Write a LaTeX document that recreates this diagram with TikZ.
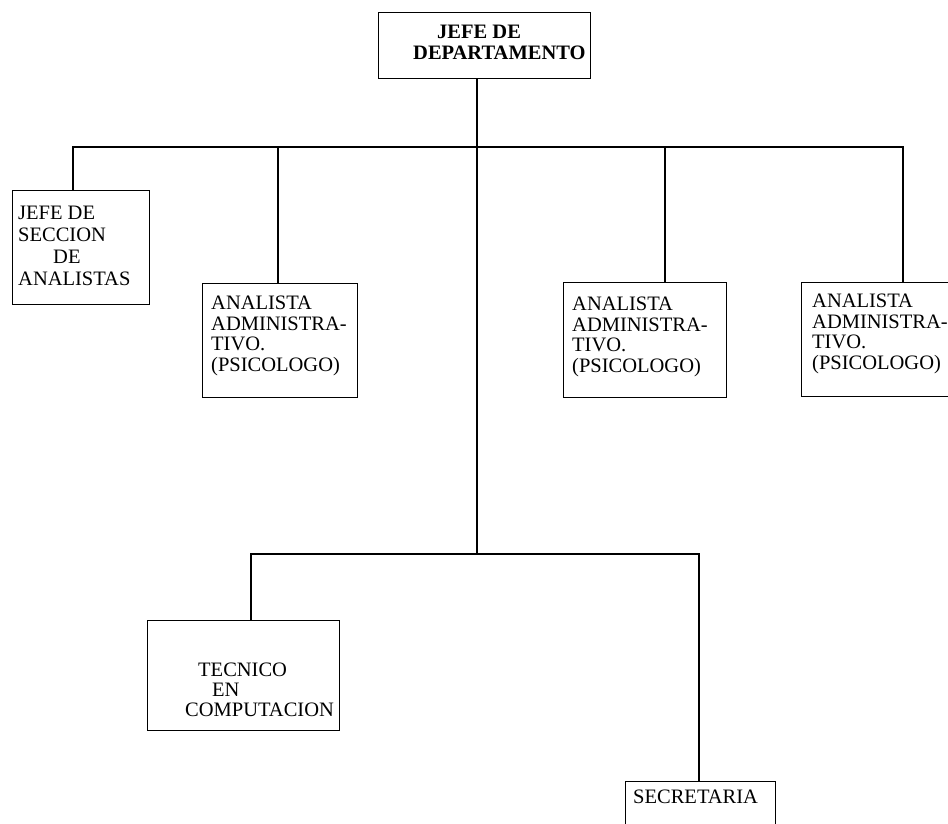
\documentclass[tikz,border=0pt]{standalone}
\usepackage{fontspec}
\setmainfont{Liberation Serif}
\begin{document}
\begin{tikzpicture}[x=1pt,y=-1pt,
  box/.style={draw=black, line width=1.2pt, inner sep=0pt, anchor=north west},
  txt/.style={inner sep=0pt, anchor=north west, align=left,
    font=\fontsize{20.5}{20.5}\selectfont},
  link/.style={draw=black, line width=1.3pt}]
\useasboundingbox (0,0) rectangle (948,823);
\fill[white] (0,0) rectangle (948,823);
\clip (0,0) rectangle (948,823);

% boxes
\node[box, minimum width=212pt, minimum height=66pt] (t) at (378,12) {};
\node[box, minimum width=137pt, minimum height=114pt] (js) at (12,190) {};
\node[box, minimum width=155pt, minimum height=114pt] (a1) at (202,283) {};
\node[box, minimum width=163pt, minimum height=115pt] (a2) at (563,282) {};
\node[box, minimum width=170pt, minimum height=114pt] (a3) at (801,282) {};
\node[box, minimum width=192pt, minimum height=110pt] (tc) at (147,620) {};
\node[box, minimum width=150pt, minimum height=70pt] (sc) at (625,781) {};

% texts
\node[txt, font=\fontsize{20.5}{21}\selectfont\bfseries] (tt) at (413,25) {\hspace*{24pt}JEFE DE\\DEPARTAMENTO};
\node[txt, font=\fontsize{20.5}{22}\selectfont] (jst) at (18,206) {JEFE DE\\SECCION\\\hspace*{35pt}DE\\ANALISTAS};
\node[txt] (a1t) at (211,296) {ANALISTA\\ADMINISTRA-\\TIVO.\\(PSICOLOGO)};
\node[txt] (a2t) at (572,297) {ANALISTA\\ADMINISTRA-\\TIVO.\\(PSICOLOGO)};
\node[txt] (a3t) at (812,294) {ANALISTA\\ADMINISTRA-\\TIVO.\\(PSICOLOGO)};
\node[txt, font=\fontsize{20.5}{20}\selectfont] (tct) at (185,663) {\hspace*{13pt}TECNICO\\\hspace*{27pt}EN\\COMPUTACION};
\node[txt] (sct) at (633,790) {SECRETARIA};

% bus coordinates
\coordinate (top) at (477,147);
\coordinate (hl) at (73,147);
\coordinate (hr) at (903,147);
\coordinate (d1) at (278,147);
\coordinate (d2) at (665,147);
\coordinate (bot) at (477,554);
\coordinate (bl) at (251,554);
\coordinate (br) at (699,554);

% connectors
\draw[link] (t.south -| top) -- (bot);
\draw[link] (js.north -| hl) -- (hl) -- (hr) -- (a3.north -| hr);
\draw[link] (d1) -- (a1.north -| d1);
\draw[link] (d2) -- (a2.north -| d2);
\draw[link] (tc.north -| bl) -- (bl) -- (br) -- (sc.north -| br);
\end{tikzpicture}
\end{document}
